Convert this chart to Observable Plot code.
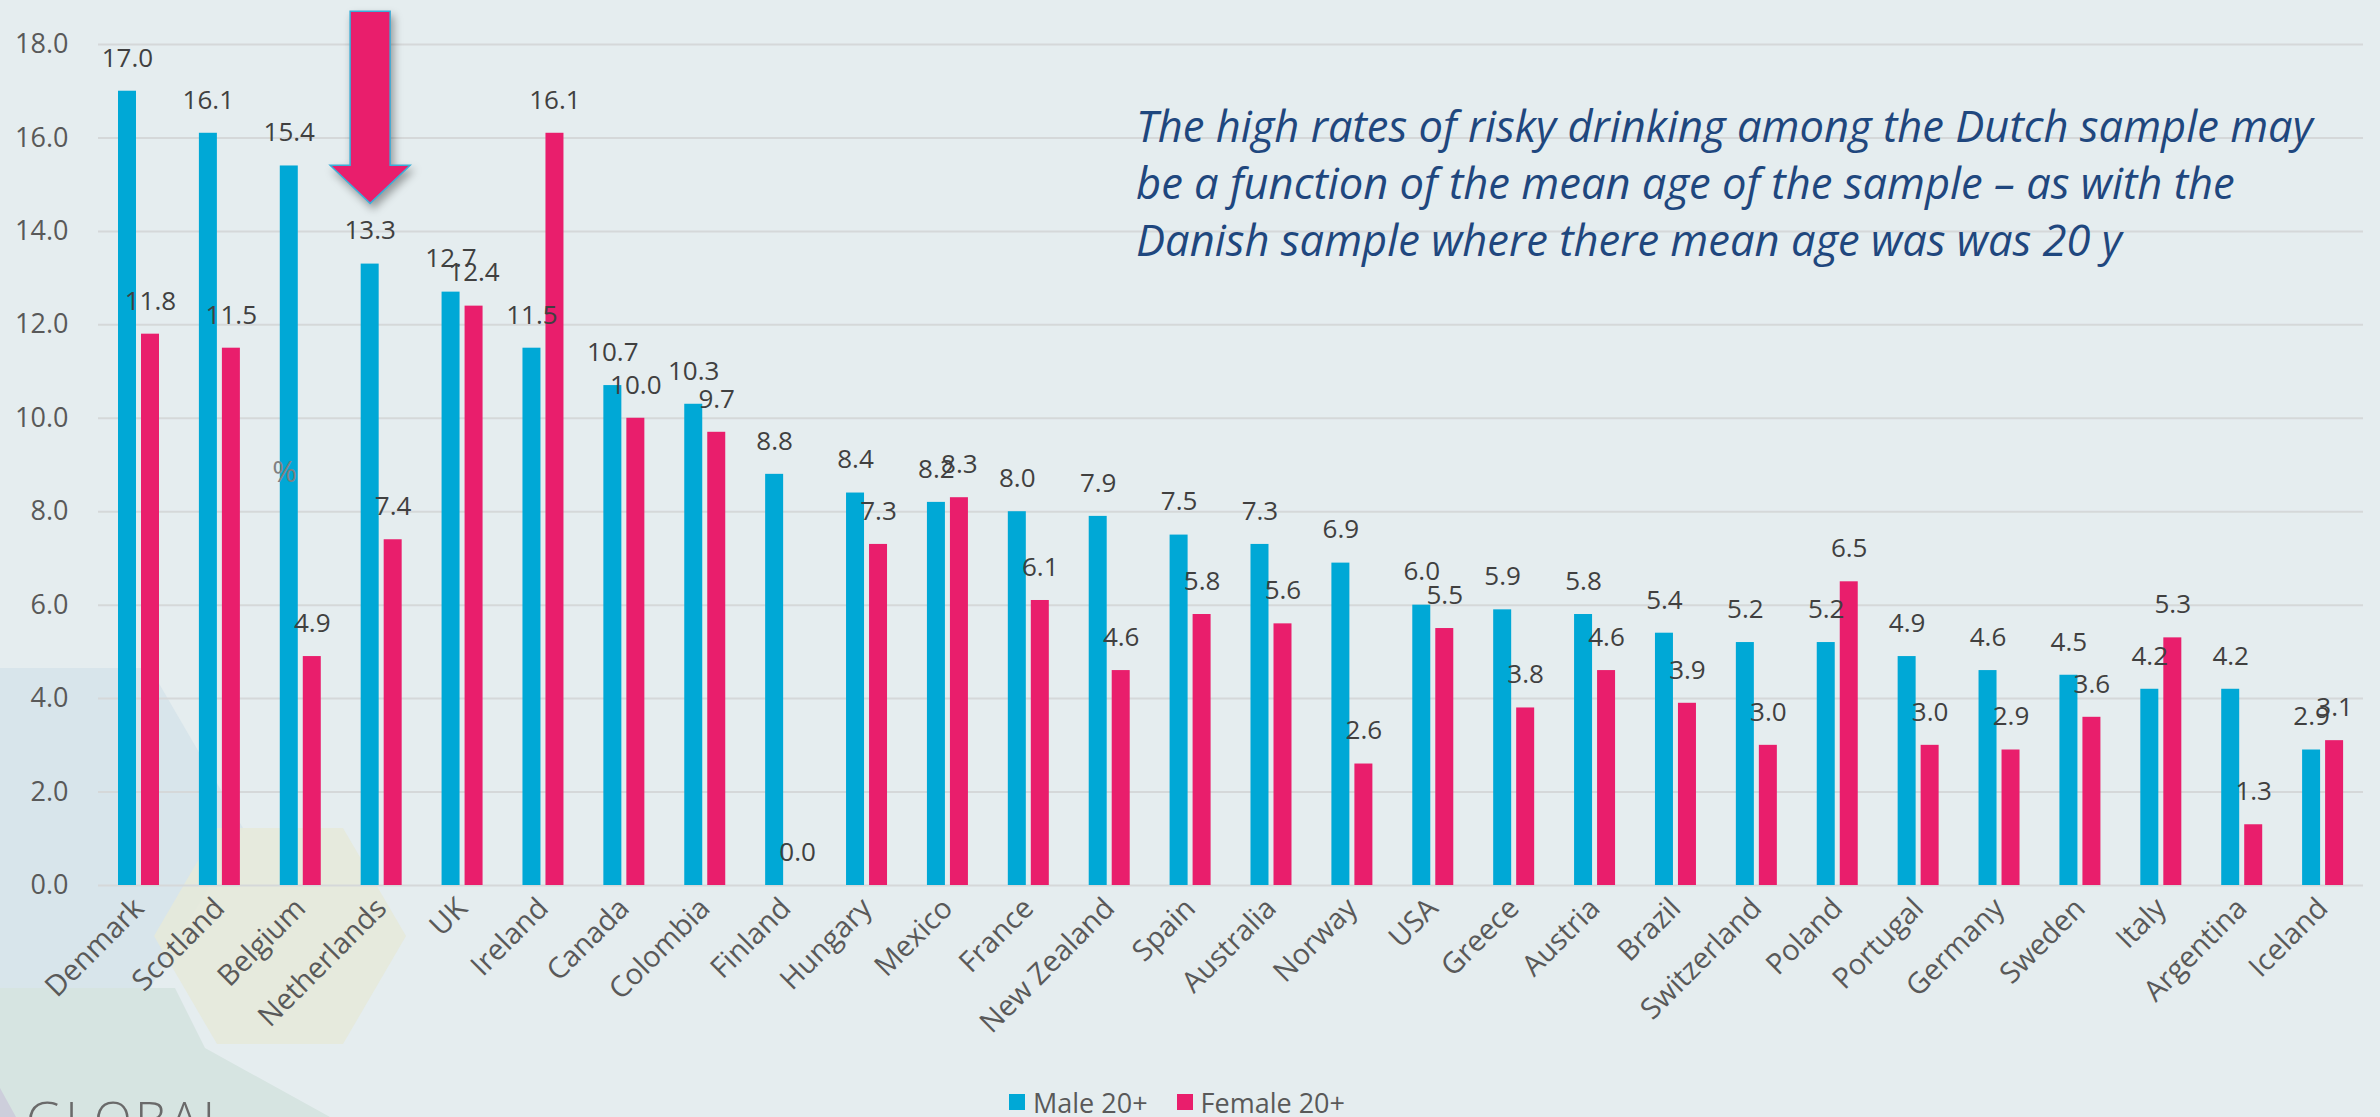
<!DOCTYPE html>
<html>
<head>
<meta charset="utf-8">
<script src="https://cdn.jsdelivr.net/npm/d3@7"></script>
<script src="https://cdn.jsdelivr.net/npm/@observablehq/plot@0.6"></script>
<style>
  html, body { margin: 0; padding: 0; }
  body { width: 2380px; height: 1117px; overflow: hidden; position: relative; background: #E5EDEF; font-family: "Open Sans", sans-serif; }
  #bg { position: absolute; left: 0; top: 0; }
  #chart { position: absolute; left: 0; top: 0; }
  #note { position: absolute; left: 1136px; top: 97px; font-style: italic; color: #1F477E; font-size: 43.5px; line-height: 57px; white-space: nowrap; }
  #logo { position: absolute; left: 26px; top: 1094px; font-size: 50px; line-height: 50px; color: #6a6a6a; font-weight: 300; letter-spacing: 3px; }
  #legend { position: absolute; left: 1009px; top: 1082px; height: 40px; display: flex; align-items: center; font-size: 27px; color: #595959; }
  #legend .sw { width: 16px; height: 16px; margin-right: 8px; }
  #legend .item { display: flex; align-items: center; margin-right: 29px; }
</style>
</head>
<body>
<svg id="bg" width="2380" height="1117">
  <polygon points="0,668 150,668 243,828 150,988 0,988" fill="#D8E5EB"/>
  <polygon points="0,988 175,988 205,1048 330,1117 0,1117" fill="#D6E4E1"/>
  <polygon points="217,828 343,828 406,936 343,1044 217,1044 154,936" fill="#E6E9DA" fill-opacity="0.9"/>
  <polygon points="0,1088 16,1117 0,1117" fill="#CDCEDB"/>
</svg>
<div id="logo">GLOBAL</div>
<div id="chart"></div>
<div id="note">The high rates of risky drinking among the Dutch sample may<br>be a function of the mean age of the sample – as with the<br>Danish sample where there mean age was was 20 y</div>
<div id="legend"></div>
<script>
const countries = ["Denmark","Scotland","Belgium","Netherlands","UK","Ireland","Canada","Colombia","Finland","Hungary","Mexico","France","New Zealand","Spain","Australia","Norway","USA","Greece","Austria","Brazil","Switzerland","Poland","Portugal","Germany","Sweden","Italy","Argentina","Iceland"];
const male   = [17.0,16.1,15.4,13.3,12.7,11.5,10.7,10.3,8.8,8.4,8.2,8.0,7.9,7.5,7.3,6.9,6.0,5.9,5.8,5.4,5.2,5.2,4.9,4.6,4.5,4.2,4.2,2.9];
const female = [11.8,11.5,4.9,7.4,12.4,16.1,10.0,9.7,0.0,7.3,8.3,6.1,4.6,5.8,5.6,2.6,5.5,3.8,4.6,3.9,3.0,6.5,3.0,2.9,3.6,5.3,1.3,3.1];
const seriesNames = ["Male 20+", "Female 20+"];
const seriesColors = ["#00A8D6", "#E91E6C"];
const yTicks = [0,2,4,6,8,10,12,14,16,18];
const yAxisTitle = "%";
const highlighted = "Netherlands";
const arrowTip = 14.6;

const maleRows = countries.map((c, i) => ({country: c, series: seriesNames[0], value: male[i]}));
const femaleRows = countries.map((c, i) => ({country: c, series: seriesNames[1], value: female[i]}));

// block arrow shape (tip at origin, pointing down)
const blockArrow = {
  draw(ctx) {
    ctx.moveTo(-20, -192);
    ctx.lineTo(20, -192);
    ctx.lineTo(20, -38);
    ctx.lineTo(40, -38);
    ctx.lineTo(0, 0);
    ctx.lineTo(-40, -38);
    ctx.lineTo(-20, -38);
    ctx.closePath();
  }
};

const chart = Plot.plot({
  width: 2380,
  height: 1080,
  marginLeft: 98,
  marginRight: 17,
  marginTop: 44,
  marginBottom: 195,
  style: {background: "transparent", fontFamily: "Open Sans, sans-serif", fontSize: "27px", color: "#595959"},
  x: {domain: countries, padding: 0, round: false, label: null, tickSize: 0, tickPadding: 18, tickRotate: -45},
  y: {domain: [0, 18], ticks: yTicks, tickFormat: d3.format(".1f"), tickSize: 0, tickPadding: 30, label: null},
  marks: [
    Plot.ruleY(yTicks, {stroke: "#D5D8D9", strokeWidth: 2}),
    Plot.barY(maleRows, {x: "country", y: "value", fill: seriesColors[0], insetLeft: 20, insetRight: 42.9}),
    Plot.barY(femaleRows, {x: "country", y: "value", fill: seriesColors[1], insetLeft: 43, insetRight: 19.9}),
    Plot.text(maleRows, {x: "country", y: "value", text: d => d.value.toFixed(1), dx: -11.5, dy: -33, fontSize: 26, fill: "#404040"}),
    Plot.text(femaleRows, {x: "country", y: "value", text: d => d.value.toFixed(1), dx: 11.5, dy: -33, fontSize: 26, fill: "#404040"}),
    Plot.text([{country: "Belgium", value: 8.85, label: yAxisTitle}], {x: "country", y: "value", text: "label", dx: -16, fontSize: 30, fill: "#808080"}),
    Plot.dot([{country: highlighted, value: arrowTip}], {x: "country", y: "value", dx: -11.5, symbol: blockArrow, fill: "#E91E6C", stroke: "#3AAED8", strokeWidth: 1.5})
  ]
});
chart.querySelectorAll('g[aria-label="dot"] path').forEach(p => p.style.filter = "drop-shadow(3px 5px 4px rgba(0,0,0,0.35))");
chart.querySelectorAll('g[aria-label^="x-axis"]').forEach(g => g.style.fontSize = "29px");
document.getElementById("chart").appendChild(chart);

const legend = document.getElementById("legend");
seriesNames.forEach((name, i) => {
  const item = document.createElement("div");
  item.className = "item";
  const sw = document.createElement("div");
  sw.className = "sw";
  sw.style.background = seriesColors[i];
  const label = document.createElement("span");
  label.textContent = name;
  item.appendChild(sw);
  item.appendChild(label);
  legend.appendChild(item);
});
</script>
</body>
</html>
